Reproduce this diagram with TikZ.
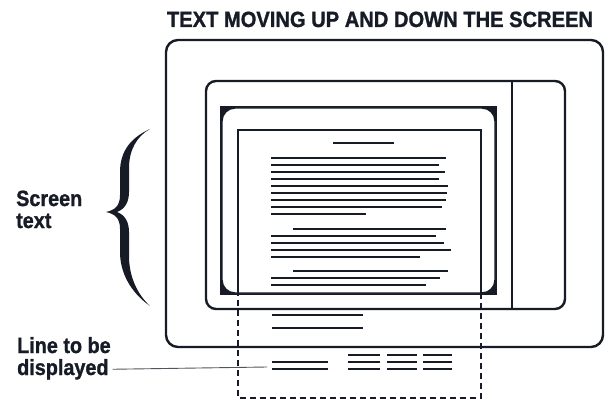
\documentclass[tikz,border=0pt]{standalone}
\usepackage{fontspec}
\usepackage{graphicx}
\setmainfont{Liberation Sans}[BoldFeatures={FakeBold=1.2}]
\definecolor{ink}{RGB}{22,27,38}
\begin{document}
\begin{tikzpicture}[x=1pt,y=-1pt,
  frame/.style={draw=ink,line width=2.4pt},
  txtline/.style={draw=ink,line width=2.6pt},
  winline/.style={draw=ink,line width=1.8pt},
  lbl/.style={font=\fontsize{22}{22}\selectfont\bfseries, text=ink, inner sep=0pt, anchor=base west},
  ]
\useasboundingbox (0,0) rectangle (610,401);

% title
\node[font=\fontsize{22}{22}\selectfont\bfseries, text=ink, inner sep=0pt, anchor=base] (title) at (380,27) {\scalebox{0.915}[1]{TEXT MOVING UP AND DOWN THE SCREEN}};

% outer case
\draw[frame, rounded corners=12pt] (166,40) rectangle (603,347);
% monitor
\draw[frame, rounded corners=10pt] (206,81) rectangle (565,309);
\draw[ink, line width=2pt] (512,81) -- (512,309);
% bezel
\fill[ink] (220,106) rectangle (497,295);
\filldraw[fill=white, draw=ink, line width=1.4pt, rounded corners=13pt] (222,108) rectangle (495,293);

% window
\draw[winline] (238,295) -- (238,130) -- (481,130) -- (481,295);
\draw[winline, dash pattern=on 6pt off 4pt, dash phase=-5pt] (238,295) -- (238,398) -- (481,398) -- (481,295);

% text lines
\foreach \y/\a/\b in {143/333/394,
  158/271/446, 165/271/439, 172/271/445, 179/271/439, 186/271/448,
  193/271/447, 200/271/446, 207/271/442, 214/271/366,
  229/293/446, 236/271/436, 243/271/444, 250/271/451, 257/271/420,
  271/293/448, 278/271/440, 285/271/426,
  315/272/363, 328/272/363,
  362/272/328, 369/272/328,
  355/348/380, 362/348/380, 369/348/380,
  355/387/417, 362/387/417, 369/387/417,
  355/423/452, 362/423/452, 369/423/452}
  \draw[txtline] (\a,\y) -- (\b,\y);

% brace
\fill[ink] (150,129) .. controls (130,138) and (120,152) .. (120,172) -- (120,195)
  .. controls (120,206) and (115,210) .. (106,212)
  .. controls (115,214) and (120,218) .. (120,229) -- (120,252)
  .. controls (120,272) and (130,292) .. (150,306)
  .. controls (137,294) and (129,276) .. (129,256) -- (129,232)
  .. controls (129,222) and (125,215) .. (117,212)
  .. controls (125,209) and (129,202) .. (129,192) -- (129,168)
  .. controls (129,150) and (137,136) .. (150,129) -- cycle;

% labels
\node[lbl] (scr1) at (16,206) {\scalebox{0.9}[1]{Screen}};
\node[lbl] (scr2) at (16,228) {\scalebox{0.9}[1]{text}};
\node[lbl] (ltb) at (17,353) {\scalebox{0.9}[1]{Line to be}};
\node[lbl] (disp) at (17,375) {\scalebox{0.9}[1]{displayed}};
\coordinate (lead) at (267,367);
\draw[ink!75, line width=0.9pt, shorten <=4pt] (disp.east) -- (lead);
\end{tikzpicture}
\end{document}
